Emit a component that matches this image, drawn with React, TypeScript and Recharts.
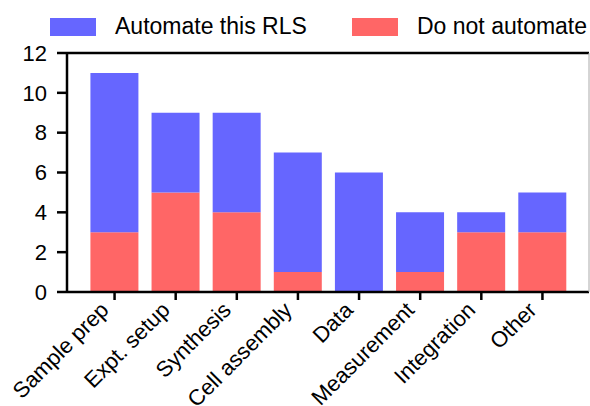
import { BarChart, Bar, XAxis, YAxis, ReferenceLine } from 'recharts'

const categories = ['Sample prep', 'Expt. setup', 'Synthesis', 'Cell assembly', 'Data', 'Measurement', 'Integration', 'Other']
const automate = [8, 4, 5, 6, 6, 3, 1, 2]
const doNotAutomate = [3, 5, 4, 1, 0, 1, 3, 3]
const yTicks = [0, 2, 4, 6, 8, 10, 12]

const BLUE = '#6666FF'
const RED = '#FF6666'
const FONT = '"Liberation Sans", Arial, Helvetica, sans-serif'

const data = categories.map((name, i) => ({
  name,
  automate: automate[i],
  notAutomate: doNotAutomate[i],
}))

function XTick(props: any) {
  const { x, y, payload } = props
  return (
    <g transform={`translate(${x - 10},${y + 2})`}>
      <text
        x={0}
        y={0}
        dy="0.35em"
        textAnchor="end"
        transform="rotate(-45)"
        fill="#000"
        fontSize={22}
        fontFamily={FONT}
      >
        {payload.value}
      </text>
    </g>
  )
}

function LegendBox() {
  // legend sits above the plot frame, like the original
  const item = (color: string, label: string, left: number) => (
    <div style={{ position: 'absolute', left, top: 13, display: 'flex', alignItems: 'center' }}>
      <div style={{ width: 46, height: 18, background: color, marginRight: 19 }} />
      <span style={{ fontFamily: FONT, fontSize: 23, color: '#000', whiteSpace: 'nowrap' }}>{label}</span>
    </div>
  )
  return (
    <>
      {item(BLUE, 'Automate this RLS', 50)}
      {item(RED, 'Do not automate', 352)}
    </>
  )
}

export default function App() {
  return (
    <div style={{ position: 'absolute', left: 0, top: 0, width: 590, height: 406, background: '#fff' }}>
      <LegendBox />
      <BarChart
        width={590}
        height={406}
        data={data}
        margin={{ top: 53, right: 0, bottom: 0, left: 0 }}
        barCategoryGap="10.5%"
      >
        <XAxis
          dataKey="name"
          height={114}
          interval={0}
          padding={{ left: 17, right: 16 }}
          axisLine={{ stroke: '#000', strokeWidth: 2.5 }}
          tickLine={{ stroke: '#000', strokeWidth: 2.5 }}
          tickSize={8}
          tickMargin={4}
          tick={<XTick />}
        />
        <YAxis
          width={67}
          domain={[0, 12]}
          ticks={yTicks}
          interval={0}
          axisLine={{ stroke: '#000', strokeWidth: 2.5 }}
          tickLine={{ stroke: '#000', strokeWidth: 2.5 }}
          tickSize={10}
          tickMargin={10}
          tick={{ fill: '#000', fontSize: 22, fontFamily: FONT }}
        />
        <YAxis
          yAxisId="frame"
          orientation="right"
          width={1}
          domain={[0, 12]}
          tick={false}
          tickLine={false}
          axisLine={{ stroke: '#aaa', strokeWidth: 1 }}
        />
        <ReferenceLine y={12} stroke="#000" strokeWidth={2.5} />
        <Bar dataKey="notAutomate" name="Do not automate" stackId="a" fill={RED} isAnimationActive={false} />
        <Bar dataKey="automate" name="Automate this RLS" stackId="a" fill={BLUE} isAnimationActive={false} />
      </BarChart>
    </div>
  )
}
